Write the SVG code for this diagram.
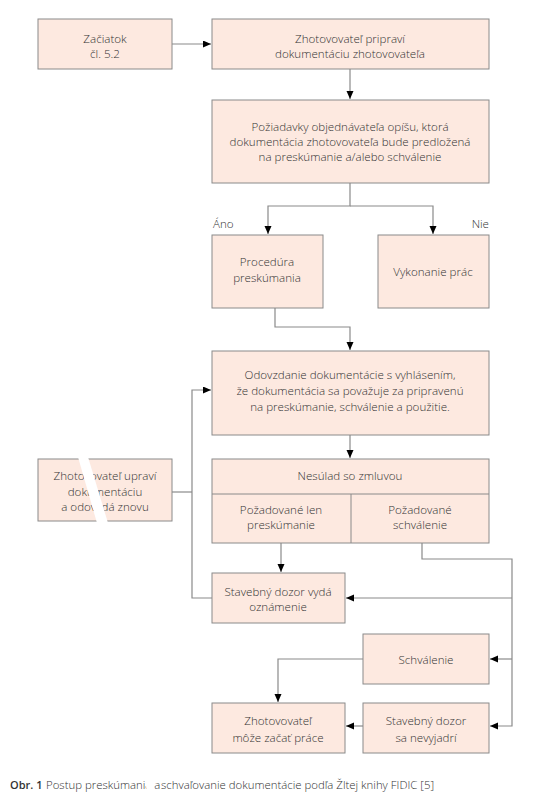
<svg xmlns="http://www.w3.org/2000/svg" width="543" height="800" viewBox="0 0 543 800">
<defs>
<style>
.box{fill:#fde9e0;stroke:#8a8a8a;stroke-width:1}
.t{font-family:"Open Sans","Liberation Sans",sans-serif;font-size:11.6px;font-weight:300;fill:#333;text-anchor:middle;dominant-baseline:central}
.c{fill:none;stroke:#8a8a8a;stroke-width:1.2}
.lbl{font-family:"Open Sans","Liberation Sans",sans-serif;font-size:11.6px;font-weight:300;fill:#333}
.cap{font-family:"Open Sans","Liberation Sans",sans-serif;font-size:11.4px;font-weight:300;fill:#333}
</style>
<marker id="ah" markerUnits="userSpaceOnUse" markerWidth="9" markerHeight="8" refX="8" refY="3.5" orient="auto">
<path d="M0,0 L8,3.5 L0,7 z" fill="#000"/>
</marker>
</defs>
<rect width="543" height="800" fill="#fff"/>
<g id="connectors">
<path class="c" d="M172,44 H211" marker-end="url(#ah)"/>
<path class="c" d="M350,69 V99" marker-end="url(#ah)"/>
<path class="c" d="M350,183 V206 H268 V234" marker-end="url(#ah)"/>
<path class="c" d="M350,206 H433 V234" marker-end="url(#ah)"/>
<path class="c" d="M275,308 V327 H350 V350" marker-end="url(#ah)"/>
<path class="c" d="M350,435 V458" marker-end="url(#ah)"/>
<path class="c" d="M172,492 H192"/>
<path class="c" d="M212,598 H192 V390 H211" marker-end="url(#ah)"/>
<path class="c" d="M281,543 V572" marker-end="url(#ah)"/>
<path class="c" d="M422,543 V559 H512 V726 H490" marker-end="url(#ah)"/>
<path class="c" d="M512,598 H346" marker-end="url(#ah)"/>
<path class="c" d="M512,659 H490" marker-end="url(#ah)"/>
<path class="c" d="M363,659 H278 V702" marker-end="url(#ah)"/>
<path class="c" d="M363,726 H346" marker-end="url(#ah)"/>
</g>
<g id="zaciatok">
<rect class="box" x="38" y="19" width="134" height="50"/>
<text class="t" x="105" y="38">Začiatok</text>
<text class="t" x="105" y="53">čl. 5.2</text>
</g>
<g id="pripravi">
<rect class="box" x="212" y="19" width="277" height="50"/>
<text class="t" x="350" y="38">Zhotovovateľ pripraví</text>
<text class="t" x="350" y="53">dokumentáciu zhotovovateľa</text>
</g>
<g id="poziadavky">
<rect class="box" x="212" y="100" width="277" height="83"/>
<text class="t" x="350" y="126">Požiadavky objednávateľa opíšu, ktorá</text>
<text class="t" x="350" y="141">dokumentácia zhotovovateľa bude predložená</text>
<text class="t" x="350" y="156">na preskúmanie a/alebo schválenie</text>
</g>
<text class="lbl" x="213" y="228">Áno</text>
<text class="lbl" x="489" y="228" text-anchor="end">Nie</text>
<g id="procedura">
<rect class="box" x="212" y="235" width="111" height="73"/>
<text class="t" x="267" y="261">Procedúra</text>
<text class="t" x="267" y="277">preskúmania</text>
</g>
<g id="vykonanie">
<rect class="box" x="378" y="235" width="111" height="73"/>
<text class="t" x="433" y="271">Vykonanie prác</text>
</g>
<g id="odovzdanie">
<rect class="box" x="212" y="351" width="277" height="84"/>
<text class="t" x="350" y="374">Odovzdanie dokumentácie s vyhlásením,</text>
<text class="t" x="350" y="390">že dokumentácia sa považuje za pripravenú</text>
<text class="t" x="350" y="406">na preskúmanie, schválenie a použitie.</text>
</g>
<g id="upravi">
<rect class="box" x="38" y="459" width="134" height="62"/>
<text class="t" x="105" y="475">Zhotovovateľ upraví</text>
<text class="t" x="105" y="491">dokumentáciu</text>
<text class="t" x="105" y="506">a odovzdá znovu</text>
<polygon points="78,457 88,457 108,523 97,523" fill="#fff"/>
</g>
<g id="nesulad">
<rect class="box" x="212" y="459" width="277" height="84"/>
<line x1="212" y1="494" x2="489" y2="494" stroke="#8a8a8a"/>
<line x1="351" y1="494" x2="351" y2="543" stroke="#8a8a8a"/>
<text class="t" x="350" y="475">Nesúlad so zmluvou</text>
<text class="t" x="281" y="509">Požadované len</text>
<text class="t" x="281" y="524">preskúmanie</text>
<text class="t" x="420" y="509">Požadované</text>
<text class="t" x="420" y="524">schválenie</text>
</g>
<g id="oznamenie">
<rect class="box" x="212" y="573" width="133" height="50"/>
<text class="t" x="278" y="591">Stavebný dozor vydá</text>
<text class="t" x="278" y="606">oznámenie</text>
</g>
<g id="schvalenie">
<rect class="box" x="363" y="634" width="126" height="50"/>
<text class="t" x="426" y="659">Schválenie</text>
</g>
<g id="zacat">
<rect class="box" x="212" y="703" width="133" height="50"/>
<text class="t" x="278" y="720">Zhotovovateľ</text>
<text class="t" x="278" y="737">môže začať práce</text>
</g>
<g id="nevyjadri">
<rect class="box" x="363" y="703" width="126" height="50"/>
<text class="t" x="426" y="720">Stavebný dozor</text>
<text class="t" x="426" y="737">sa nevyjadrí</text>
</g>
<text class="cap" x="10" y="789"><tspan font-weight="600" font-size="11px">Obr. 1</tspan><tspan x="46">Postup preskúmania a</tspan><tspan x="161">schvaľovanie dokumentácie podľa Žltej knihy FIDIC [5]</tspan></text>
<polygon points="145,778 153,778 155,794 147,794" fill="#fff"/>
</svg>
